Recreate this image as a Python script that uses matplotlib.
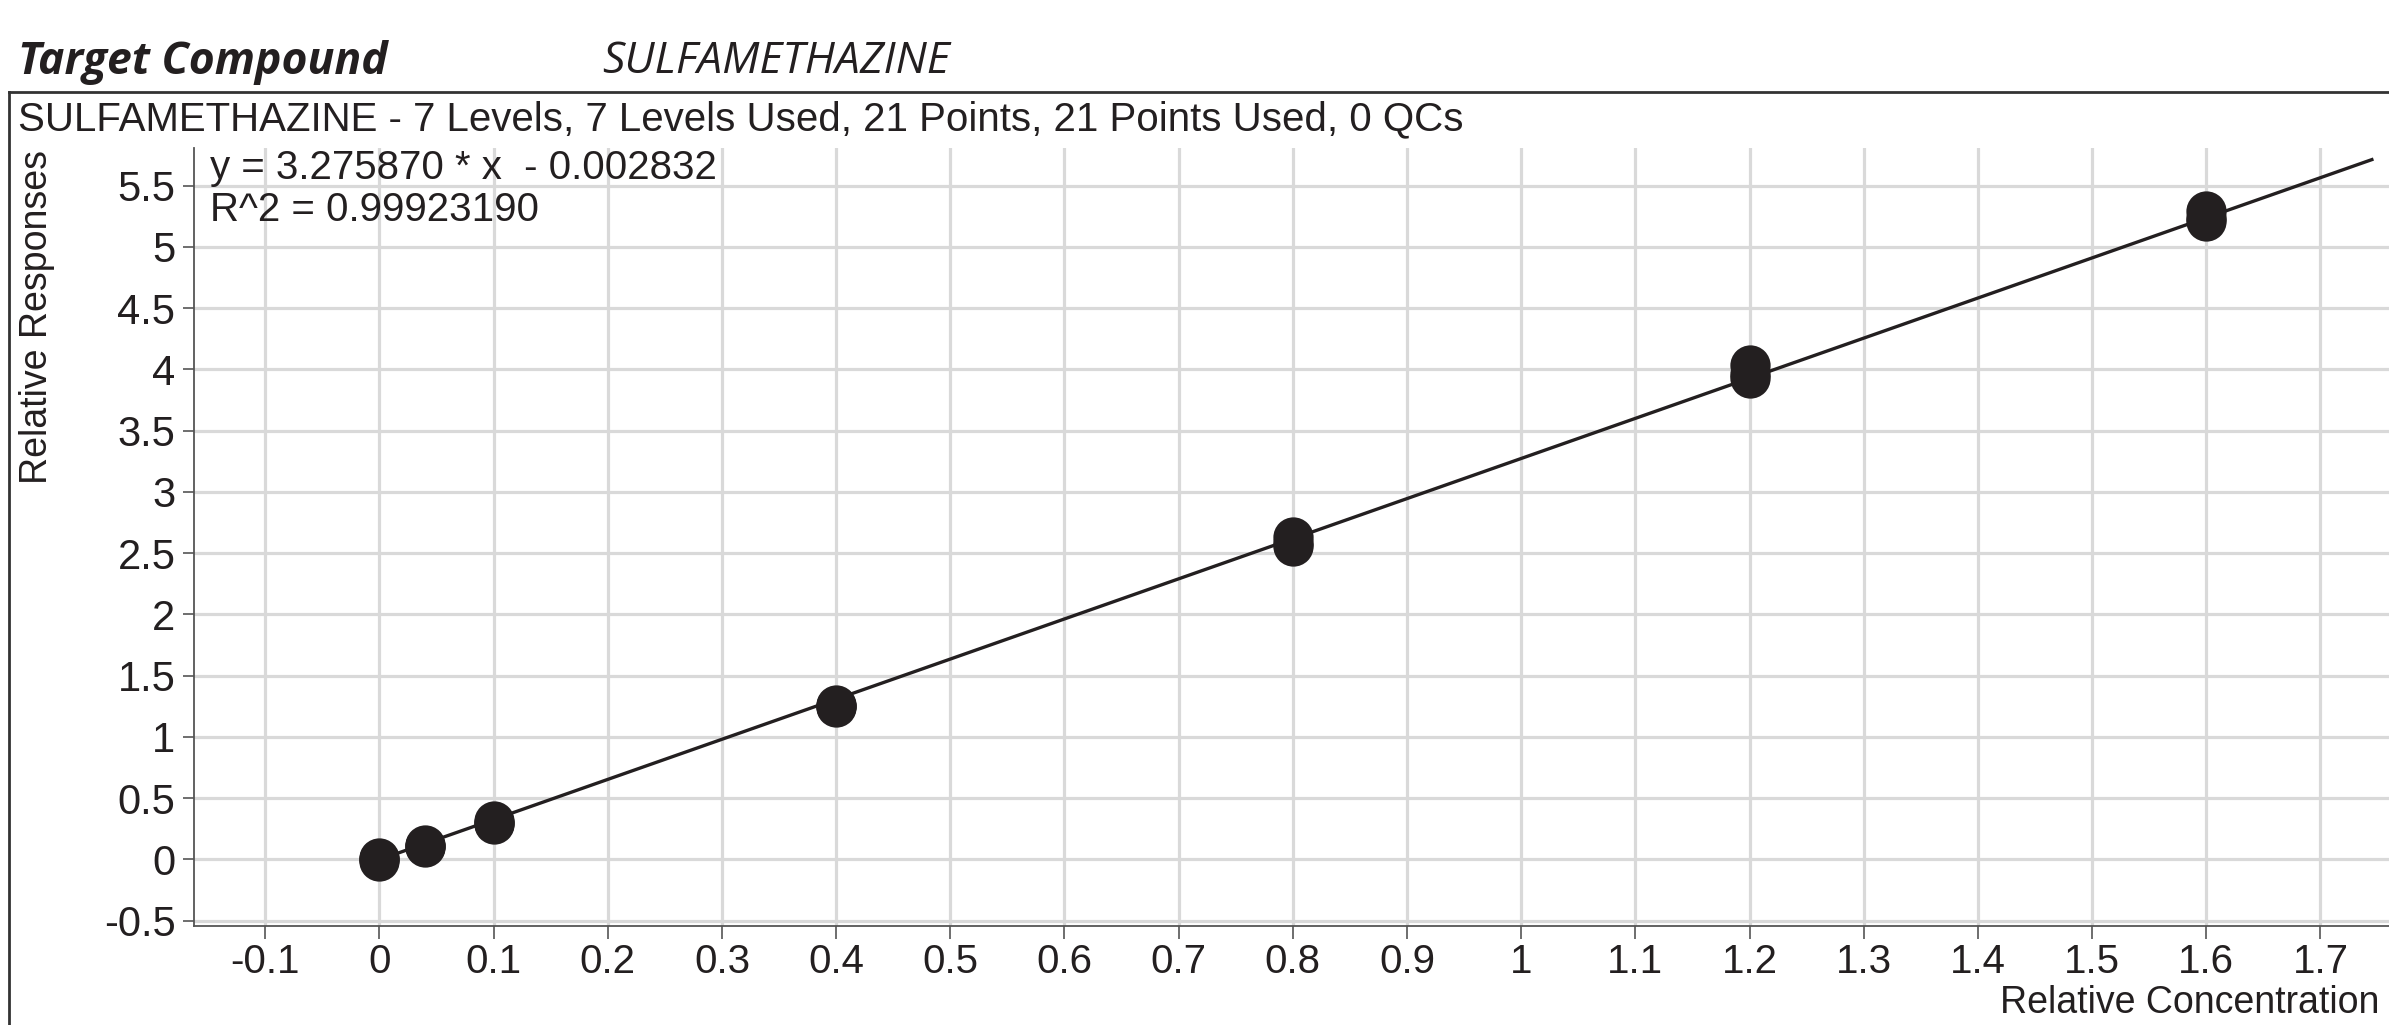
import numpy as np
import matplotlib
matplotlib.use("Agg")
import matplotlib.pyplot as plt
from matplotlib.lines import Line2D

plt.rcParams['font.family'] = ['Liberation Sans', 'DejaVu Sans']

# calibration levels (3 replicates each)
conc_levels = [0.0, 0.04, 0.1, 0.4, 0.8, 1.2, 1.6]
resp_rep1 = [0.00, 0.11, 0.30, 1.25, 2.63, 4.04, 5.29]
resp_rep2 = [0.01, 0.12, 0.31, 1.24, 2.56, 3.93, 5.21]
resp_rep3 = [-0.01, 0.10, 0.29, 1.26, 2.58, 3.96, 5.24]

slope = 3.275870
intercept = -0.002832
r2 = 0.99923190
fit_x = [0.0, 1.745]

xticks = [round(-0.1 + 0.1 * i, 1) for i in range(19)]
yticks = [-0.5, 0, 0.5, 1, 1.5, 2, 2.5, 3, 3.5, 4, 4.5, 5, 5.5]

ink = "#231f20"

fig = plt.figure(figsize=(23.89, 10.25), dpi=100)
ax = fig.add_axes([0.081, 0.0962, 0.919, 0.7596])

fx = np.array(fit_x)
ax.plot(fx, slope * fx + intercept, color=ink, lw=2.4, zorder=3)
for rep in [resp_rep1, resp_rep2, resp_rep3]:
    ax.plot(conc_levels, rep, 'o', color=ink, mec=ink, mew=0, ms=29, zorder=4, clip_on=False)

ax.set_xlim(-0.1628, 1.76)
ax.set_ylim(-0.548, 5.81)
ax.set_xticks(xticks)
ax.set_xticklabels([f"{t:g}" for t in xticks])
ax.set_yticks(yticks)
ax.set_yticklabels([f"{t:g}" for t in yticks])
ax.grid(True, color="#d9d9d9", lw=2.3, zorder=0)
ax.set_axisbelow(True)
for s in ["top", "right"]:
    ax.spines[s].set_visible(False)
for s in ["left", "bottom"]:
    ax.spines[s].set_color("#555555")
    ax.spines[s].set_linewidth(1.3)
ax.tick_params(axis='x', length=9, width=1.2, color="#555555", labelsize=29, pad=3, labelcolor=ink)
ax.tick_params(axis='y', length=8, width=1.2, color="#555555", labelsize=30, pad=5, labelcolor=ink)

ax.text(0.088, 0.8365, f"y = {slope:.6f} * x  - {abs(intercept):.6f}", transform=fig.transFigure,
        fontsize=29, color=ink, va='center', ha='left')
ax.text(0.088, 0.795, f"R^2 = {r2:.8f}", transform=fig.transFigure,
        fontsize=29, color=ink, va='center', ha='left')

fig.text(0.0153, 0.691, "Relative Responses", rotation=90, fontsize=27, color=ink, va='center', ha='center')
fig.text(0.996, 0.004, "Relative Concentration", fontsize=27, color=ink, va='bottom', ha='right')

fig.text(0.0077, 0.9395, "Target Compound", fontsize=32, fontweight='bold', fontstyle='italic',
         family=['Open Sans', 'DejaVu Sans'], color=ink, va='center', ha='left')
fig.text(0.252, 0.9395, "SULFAMETHAZINE", fontsize=32, fontstyle='italic',
         family=['Open Sans', 'DejaVu Sans'], color=ink, va='center', ha='left')
fig.text(0.0077, 0.884, "SULFAMETHAZINE - 7 Levels, 7 Levels Used, 21 Points, 21 Points Used, 0 QCs",
         fontsize=29, color=ink, va='center', ha='left')

# frame around the plot panel
fig.add_artist(Line2D([0.0038, 0.0038], [0.0, 0.9107], color="#333333", lw=2, transform=fig.transFigure))
fig.add_artist(Line2D([0.0038, 1.0], [0.9107, 0.9107], color="#333333", lw=2, transform=fig.transFigure))

fig.savefig("out.png", dpi=100)
